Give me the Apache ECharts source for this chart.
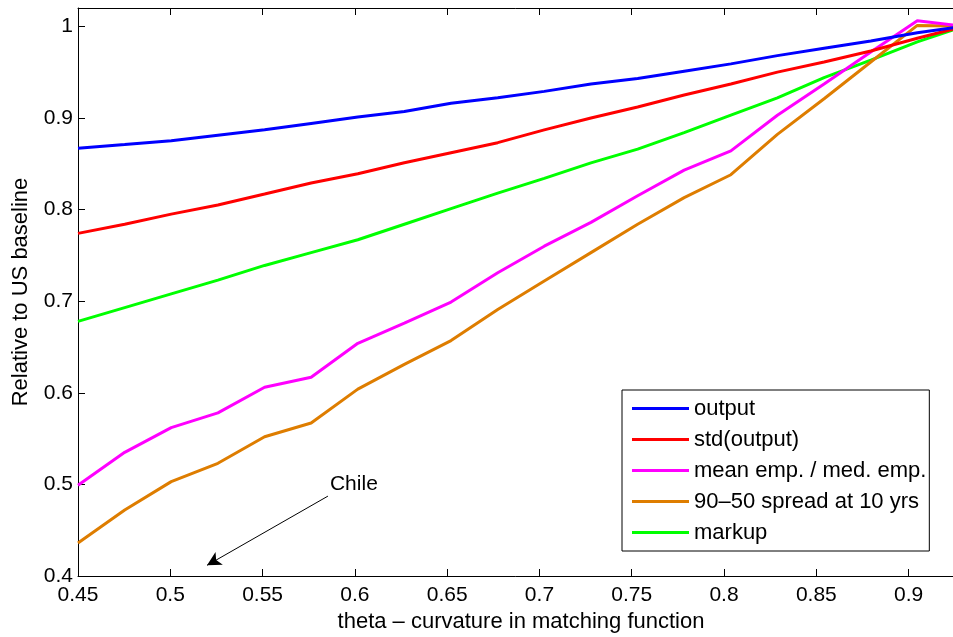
<!DOCTYPE html>
<html>
<head>
<meta charset="utf-8">
<script src="https://cdn.jsdelivr.net/npm/echarts@6/dist/echarts.min.js"></script>
<style>
  html, body { margin: 0; padding: 0; background: #fff; }
  #chart { width: 953px; height: 637px; }
</style>
</head>
<body>
<div id="chart"></div>
<script>
// theta grid (20 points, 0.45 .. 0.93)
const theta = [0.45, 0.4753, 0.5005, 0.5258, 0.5511, 0.5763, 0.6016, 0.6268, 0.6521, 0.6774,
  0.7026, 0.7279, 0.7532, 0.7784, 0.8037, 0.8289, 0.8542, 0.8795, 0.9047, 0.93];

const outputVals = [0.867, 0.871, 0.875, 0.881, 0.887, 0.894, 0.901, 0.907, 0.916, 0.922,
  0.929, 0.937, 0.943, 0.951, 0.959, 0.968, 0.976, 0.984, 0.993, 1.0];
const stdOutput = [0.774, 0.784, 0.795, 0.805, 0.817, 0.829, 0.839, 0.851, 0.862, 0.873,
  0.887, 0.900, 0.912, 0.925, 0.937, 0.950, 0.961, 0.973, 0.987, 1.0];
const meanEmp = [0.499, 0.535, 0.562, 0.578, 0.606, 0.617, 0.654, 0.676, 0.699, 0.731,
  0.760, 0.786, 0.815, 0.843, 0.864, 0.903, 0.937, 0.972, 1.006, 1.0];
const spread9050 = [0.436, 0.472, 0.503, 0.523, 0.552, 0.567, 0.604, 0.631, 0.657, 0.691,
  0.722, 0.753, 0.784, 0.813, 0.838, 0.882, 0.921, 0.961, 1.001, 1.0];
const markup = [0.678, 0.693, 0.708, 0.723, 0.739, 0.753, 0.767, 0.784, 0.801, 0.818,
  0.834, 0.851, 0.866, 0.884, 0.903, 0.922, 0.944, 0.963, 0.983, 1.0];

const names = ["output", "std(output)", "mean emp. / med. emp.", "90–50 spread at 10 yrs", "markup"];
const colors = ["#0000ff", "#ff0000", "#ff00ff", "#de7d00", "#00ff00"];
const values = [outputVals, stdOutput, meanEmp, spread9050, markup];

// annotation (data coords)
const arrowFrom = [0.5854, 0.4872];
const arrowTo = [0.5199, 0.4117];
const chileAt = [0.5865, 0.5003];

const FONT = "Liberation Sans";

const chart = echarts.init(document.getElementById("chart"));

const series = values.map((v, i) => ({
  name: names[i],
  type: "line",
  data: theta.map((t, j) => [t, v[j]]),
  showSymbol: false,
  symbol: "none",
  lineStyle: { color: colors[i], width: 3 },
  itemStyle: { color: colors[i] },
  z: 5 - i + 2,
}));

series[0].markLine = {
  silent: true,
  symbol: ["none", "arrow"],
  symbolSize: [11, 14],
  label: { show: false },
  lineStyle: { color: "#000", width: 1, type: "solid" },
  data: [[{ coord: arrowFrom }, { coord: arrowTo }]],
};

const option = {
  animation: false,
  textStyle: { fontFamily: FONT },
  // the original figure is cropped on the right, so the plot box runs past the canvas
  grid: { left: 78, top: 8, bottom: 61, right: -11, outerBoundsMode: "none", containLabel: false },
  legend: {
    data: names,
    orient: "vertical",
    left: 622,
    top: 390,
    padding: [3, 3, 3, 10],
    itemGap: 0,
    itemWidth: 57,
    itemHeight: 3,
    icon: "rect",
    backgroundColor: "#fff",
    borderColor: "#000",
    borderWidth: 1,
    textStyle: { fontFamily: FONT, fontSize: 22, color: "#000", lineHeight: 31 },
  },
  xAxis: [
    {
      type: "value",
      min: 0.45,
      max: 0.93,
      interval: 0.05,
      name: "theta – curvature in matching function",
      nameLocation: "middle",
      nameGap: 35,
      nameTextStyle: { fontFamily: FONT, fontSize: 22, color: "#000" },
      axisLine: { show: true, lineStyle: { color: "#000", width: 1 } },
      axisTick: { show: true, inside: true, length: 7, lineStyle: { color: "#000" } },
      axisLabel: { fontFamily: FONT, fontSize: 21, color: "#000", margin: 9, showMaxLabel: false },
      splitLine: { show: false },
    },
    {
      type: "value",
      position: "top",
      min: 0.45,
      max: 0.93,
      interval: 0.05,
      axisLine: { show: true, lineStyle: { color: "#000", width: 1 } },
      axisTick: { show: true, inside: true, length: 7, lineStyle: { color: "#000" } },
      axisLabel: { show: false },
      splitLine: { show: false },
    },
  ],
  yAxis: {
    type: "value",
    min: 0.4,
    max: 1.02,
    interval: 0.1,
    name: "Relative to US baseline",
    nameLocation: "middle",
    nameGap: 46,
    nameTextStyle: { fontFamily: FONT, fontSize: 22, color: "#000" },
    axisLine: { show: true, lineStyle: { color: "#000", width: 1 } },
    axisTick: { show: true, inside: true, length: 7, lineStyle: { color: "#000" } },
    axisLabel: { fontFamily: FONT, fontSize: 21, color: "#000", margin: 5, showMaxLabel: false },
    splitLine: { show: false },
  },
  series: series,
};

chart.setOption(option);

// "Chile" label placed from data coords
const p = chart.convertToPixel({ xAxisIndex: 0, yAxisIndex: 0 }, chileAt);
chart.setOption({
  graphic: [{
    type: "text",
    x: p[0],
    y: p[1],
    style: { text: "Chile", fontFamily: FONT, fontSize: 21, fill: "#000", verticalAlign: "middle" },
  }],
});
</script>
</body>
</html>
